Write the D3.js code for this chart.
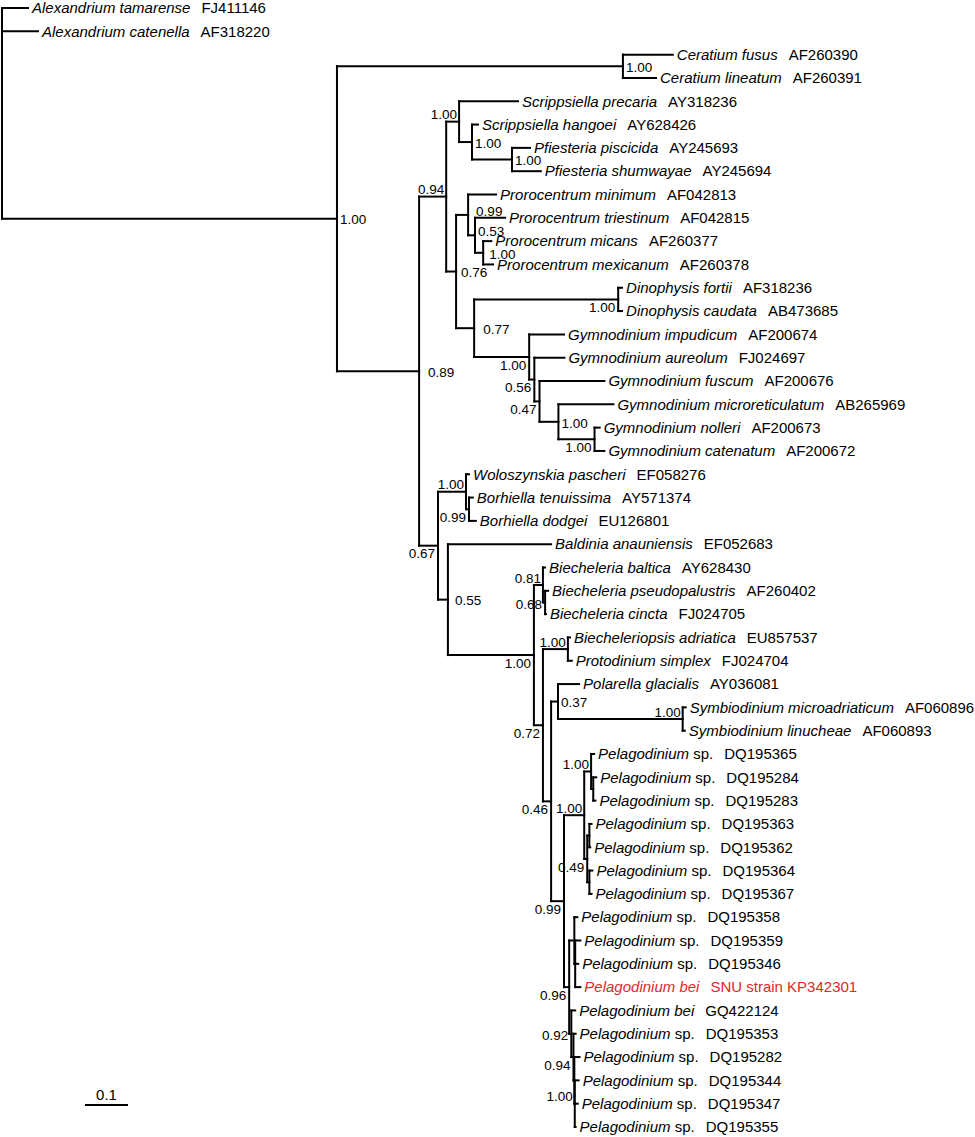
<!DOCTYPE html>
<html>
<head>
<meta charset="utf-8">
<script src="https://cdn.jsdelivr.net/npm/d3@7"></script>
<style>
  html, body { margin: 0; padding: 0; background: #fff; }
  svg { display: block; font-family: "Liberation Sans", Arial, sans-serif; }
</style>
</head>
<body>
<svg id="chart" width="975" height="1137"></svg>
<script>
// ---------------- DATA ----------------
// Tree topology with branch lengths (substitutions/site); internal nodes carry ids
const newick = `(
 t0:0.0605,
 t1:0.0837,
 (
  (t2:0.116,t3:0.077)CER:0.665,
  (
   (
    (t4:0.137,(t5:0.014,(t6:0.042,t7:0.067)F:0.093)E:0.030)D:0.030,
    (
     (t8:0.065,(t9:0.070,(t10:0.019,t11:0.023)J:0.019)I:0.016)H:0.028,
     ((t12:0.009,t13:0.009)L:0.335,(t14:0.081,(t15:0.070,(t16:0.151,(t17:0.128,(t18:0.012,t19:0.023)Q:0.084)P:0.044)O:0.012)N:0.012)M:0.128)K:0.042
    )G:0.023
   )C:0.063,
   (
    (t20:0.007,(t21:0.009,t22:0.016)T:0.007)S:0.065,
    (
     t23:0.240,
     (
      (t24:0.005,(t25:0.007,t26:0.002)W2:0.005)W:0.021,
      (
       (t27:0.005,t28:0.009)Y:0.058,
       (
        (t29:0.049,(t30:0.007,t31:0.005)AC:0.290)AA:0.016,
        (
         ((t32:0.007,(t33:0.007,t34:0.005)AG:0.005)AF:0.016,((t35:0.005,t36:0.002)AI:0.005,(t37:0.007,t38:0.005)AJ:0.005)AH:0.007)AD:0.047,
         (
          (t39:0.007,(t40:0.012,t41:0.007,t42:0.012)AK2:0.002)AK:0.012,
          (t43:0.009,(t44:0.005,(t45:0.012,(t46:0.009,t47:0.007,t48:0.002)AN:0.001)AN1:0.002)AM:0.005)AL:0.005
         )AE:0.012
        )AB:0.030
       )Z:0.019
      )X:0.021
     )V:0.200
    )U:0.023
   )R:0.044
  )B:0.191
 )A:0.779
)ROOT;`;

const speciesNames = [
  "Alexandrium tamarense", "Alexandrium catenella", "Ceratium fusus", "Ceratium lineatum",
  "Scrippsiella precaria", "Scrippsiella hangoei", "Pfiesteria piscicida", "Pfiesteria shumwayae",
  "Prorocentrum minimum", "Prorocentrum triestinum", "Prorocentrum micans", "Prorocentrum mexicanum",
  "Dinophysis fortii", "Dinophysis caudata", "Gymnodinium impudicum", "Gymnodinium aureolum",
  "Gymnodinium fuscum", "Gymnodinium microreticulatum", "Gymnodinium nolleri", "Gymnodinium catenatum",
  "Woloszynskia pascheri", "Borhiella tenuissima", "Borhiella dodgei", "Baldinia anauniensis",
  "Biecheleria baltica", "Biecheleria pseudopalustris", "Biecheleria cincta", "Biecheleriopsis adriatica",
  "Protodinium simplex", "Polarella glacialis", "Symbiodinium microadriaticum", "Symbiodinium linucheae",
  "Pelagodinium", "Pelagodinium", "Pelagodinium", "Pelagodinium", "Pelagodinium", "Pelagodinium", "Pelagodinium",
  "Pelagodinium", "Pelagodinium", "Pelagodinium", "Pelagodinium bei", "Pelagodinium bei",
  "Pelagodinium", "Pelagodinium", "Pelagodinium", "Pelagodinium", "Pelagodinium"
];
const speciesSuffix = [
  "", "", "", "", "", "", "", "", "", "", "", "", "", "", "", "", "", "", "", "", "", "", "", "", "", "", "", "", "", "", "", "",
  "sp.", "sp.", "sp.", "sp.", "sp.", "sp.", "sp.",
  "sp.", "sp.", "sp.", "", "",
  "sp.", "sp.", "sp.", "sp.", "sp."
];
const accessions = [
  "FJ411146", "AF318220", "AF260390", "AF260391", "AY318236", "AY628426", "AY245693", "AY245694",
  "AF042813", "AF042815", "AF260377", "AF260378", "AF318236", "AB473685", "AF200674", "FJ024697",
  "AF200676", "AB265969", "AF200673", "AF200672", "EF058276", "AY571374", "EU126801", "EF052683",
  "AY628430", "AF260402", "FJ024705", "EU857537", "FJ024704", "AY036081", "AF060896", "AF060893",
  "DQ195365", "DQ195284", "DQ195283", "DQ195363", "DQ195362", "DQ195364", "DQ195367",
  "DQ195358", "DQ195359", "DQ195346", "SNU strain KP342301", "GQ422124",
  "DQ195353", "DQ195282", "DQ195344", "DQ195347", "DQ195355"
];
const highlightedTaxon = 42;

// Posterior probabilities at internal nodes
const supportValues = {
  A: "1.00", CER: "1.00", B: "0.89", C: "0.94", D: "1.00", E: "1.00", F: "1.00",
  G: "0.76", H: "0.99", I: "0.53", J: "1.00", K: "0.77", L: "1.00", M: "1.00",
  N: "0.56", O: "0.47", P: "1.00", Q: "1.00", R: "0.67", S: "1.00", T: "0.99",
  U: "0.55", V: "1.00", W: "0.81", W2: "0.68", X: "0.72", Y: "1.00", Z: "0.46",
  AA: "0.37", AC: "1.00", AB: "0.99", AD: "1.00", AF: "1.00", AH: "0.49",
  AE: "0.96", AL: "0.92", AM: "0.94", AN: "1.00"
};
const scaleBarValue = 0.1;

// ---------------- PARSE ----------------
function parseNewick(str) {
  const s = str.replace(/\s+/g, "");
  let i = 0;
  function node() {
    const n = {};
    if (s[i] === "(") {
      n.children = [];
      i++;
      n.children.push(node());
      while (s[i] === ",") { i++; n.children.push(node()); }
      i++; // ')'
    }
    let name = "";
    while (i < s.length && !":,();".includes(s[i])) name += s[i++];
    n.name = name;
    n.len = 0;
    if (s[i] === ":") {
      i++;
      let num = "";
      while (i < s.length && !",();".includes(s[i])) num += s[i++];
      n.len = +num;
    }
    return n;
  }
  return node();
}

const root = d3.hierarchy(parseNewick(newick));
root.eachBefore(d => { d.dist = d.parent ? d.parent.dist + d.data.len : 0; });

const leaves = root.leaves();
const x = d3.scaleLinear().domain([0, 1]).range([2, 432]);
const y = d3.scalePoint().domain(leaves.map(d => d.data.name)).range([8, 1127]);

leaves.forEach(d => { d.py = y(d.data.name); });
root.eachAfter(d => {
  if (d.children) d.py = (d.children[0].py + d.children[d.children.length - 1].py) / 2;
});
root.each(d => { d.px = x(d.dist); });

// ---------------- DRAW ----------------
const svg = d3.select("#chart");
const g = svg.append("g");

const lineStyle = sel => sel.attr("stroke", "#000").attr("stroke-width", 2).attr("stroke-linecap", "square").attr("fill", "none");

// horizontal branches
g.selectAll("line.h")
  .data(root.descendants().filter(d => d.parent))
  .join("line")
  .attr("class", "h")
  .attr("x1", d => d.parent.px).attr("x2", d => d.px)
  .attr("y1", d => d.py).attr("y2", d => d.py)
  .call(lineStyle);

// vertical connectors
g.selectAll("line.v")
  .data(root.descendants().filter(d => d.children))
  .join("line")
  .attr("class", "v")
  .attr("x1", d => d.px).attr("x2", d => d.px)
  .attr("y1", d => d.children[0].py).attr("y2", d => d.children[d.children.length - 1].py)
  .call(lineStyle);

// leaf labels
const leafText = g.selectAll("text.leaf")
  .data(leaves)
  .join("text")
  .attr("class", "leaf")
  .attr("x", d => d.px + 4)
  .attr("y", d => d.py)
  .attr("dy", "0.35em")
  .attr("font-size", 15)
  .attr("fill", d => +d.data.name.slice(1) === highlightedTaxon ? "#e3262d" : "#000");

leafText.each(function(d) {
  const idx = +d.data.name.slice(1);
  const t = d3.select(this);
  t.append("tspan").attr("font-style", "italic").text(speciesNames[idx]);
  if (speciesSuffix[idx]) t.append("tspan").text(" " + speciesSuffix[idx]);
  t.append("tspan").attr("dx", 11).text(accessions[idx]);
});

// support label placement (style): r = right, l = left, lb = left-below, la = left-above
const labelPlace = {
  A: "r", CER: "r", B: "r9", C: "la", D: "la", E: "r", F: "r", G: "r5", H: "r8u", I: "r3u", J: "r6",
  K: "r9", L: "lb", M: "lb", N: "lb", O: "lb", P: "r", Q: "lb", R: "lb", S: "la", T: "lb",
  U: "r7", V: "lb", W: "la", W2: "l", X: "lb", Y: "la", Z: "lb", AA: "r", AC: "la",
  AB: "lb", AD: "la", AF: "la", AH: "lb", AE: "lb", AL: "l", AM: "lb", AN: "la"
};

const internal = root.descendants().filter(d => d.children && supportValues[d.data.name]);
g.selectAll("text.sup")
  .data(internal)
  .join("text")
  .attr("class", "sup")
  .attr("font-size", 13.5)
  .attr("fill", "#000")
  .attr("dy", "0.35em")
  .each(function(d) {
    const p = labelPlace[d.data.name] || "r";
    const t = d3.select(this).text(supportValues[d.data.name]);
    if (p[0] === "r") {
      const off = parseFloat(p.slice(1)) || 3;
      t.attr("text-anchor", "start").attr("x", d.px + off).attr("y", d.py + (p.endsWith("u") ? -4 : 1));
    } else if (p === "la") {
      t.attr("text-anchor", "end").attr("x", d.px - 2).attr("y", d.py - 7);
    } else if (p === "lb") {
      t.attr("text-anchor", "end").attr("x", d.px - 3).attr("y", d.py + 8);
    } else {
      t.attr("text-anchor", "end").attr("x", d.px - 3).attr("y", d.py + 2);
    }
  });

// scale bar
const sbX0 = 85, sbY = 1105;
const sbLen = x(scaleBarValue) - x(0);
svg.append("line")
  .attr("x1", sbX0).attr("x2", sbX0 + sbLen)
  .attr("y1", sbY).attr("y2", sbY)
  .attr("stroke", "#000").attr("stroke-width", 2);
svg.append("text")
  .attr("x", sbX0 + sbLen / 2).attr("y", sbY - 10)
  .attr("text-anchor", "middle")
  .attr("dy", "0.35em")
  .attr("font-size", 15)
  .text(String(scaleBarValue));
</script>
</body>
</html>
